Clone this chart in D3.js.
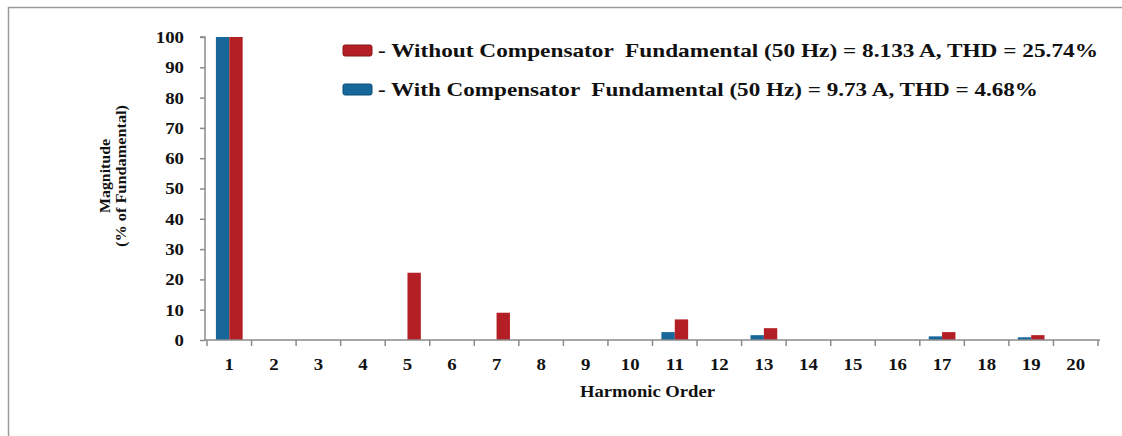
<!DOCTYPE html>
<html><head><meta charset="utf-8">
<script src="https://cdn.jsdelivr.net/npm/d3@7"></script>
<style>body{margin:0;background:#fff}svg{display:block}text{font-family:"Liberation Serif","Times New Roman",serif;font-weight:bold;fill:#111}</style>
</head><body><svg id="c" width="1122" height="436"></svg>
<script>
const harmonics = [1,2,3,4,5,6,7,8,9,10,11,12,13,14,15,16,17,18,19,20];
const withComp    = [100,0,0,0,0,0,0,0,0,0,2.6,0,1.6,0,0,0,1.2,0,0.9,0];
const withoutComp = [100,0,0,0,22.2,0,9.0,0,0,0,6.8,0,3.9,0,0,0,2.6,0,1.6,0];
const yTicks = [0,10,20,30,40,50,60,70,80,90,100];
const seriesNames = ["- Without Compensator  Fundamental (50 Hz) = 8.133 A, THD = 25.74%",
                     "- With Compensator  Fundamental (50 Hz) = 9.73 A, THD = 4.68%"];
const colors = {without:"#b31f24", withc:"#17679b"};

const svg = d3.select("#c");
svg.append("rect").attr("x",8.5).attr("y",7.5).attr("width",1200).attr("height",500)
  .attr("fill","none").attr("stroke","#9a9a9a").attr("stroke-width",1.5);

const x0 = 207, x1 = 1098, yTop = 37, yBot = 340, axX = 205;
const x = d3.scaleBand().domain(harmonics).range([x0,x1]).paddingInner(0).paddingOuter(0);
const y = d3.scaleLinear().domain([0,100]).range([yBot,yTop]);
const barW = x.bandwidth()*0.3;

const g = svg.append("g");
harmonics.forEach((h,i)=>{
  const c = x(h)+x.bandwidth()/2;
  if (withComp[i]>0) g.append("rect").attr("x",c-barW).attr("y",y(withComp[i])).attr("width",barW).attr("height",yBot-y(withComp[i])).attr("fill",colors.withc);
  if (withoutComp[i]>0) g.append("rect").attr("x",c).attr("y",y(withoutComp[i])).attr("width",barW).attr("height",yBot-y(withoutComp[i])).attr("fill",colors.without);
});

const tickFont = sel => sel.attr("font-size",16).attr("fill","#111")
  .style("font-family",'"Liberation Serif",serif').style("font-weight","bold")
  .attr("textLength",d=>String(d).length*9.4).attr("lengthAdjust","spacingAndGlyphs");

const ya = svg.append("g").attr("transform",`translate(${axX},0)`)
  .call(d3.axisLeft(y).tickValues(yTicks).tickSize(5).tickPadding(16));
ya.select(".domain").attr("stroke","#8a8a8a").attr("stroke-width",1.5).attr("d",`M-5,${yTop}H0V${yBot}`);
ya.selectAll(".tick line").attr("stroke","#8a8a8a").attr("stroke-width",1.5);
ya.selectAll(".tick text").call(tickFont).attr("dy","0.34em");

const xa = svg.append("g").attr("transform",`translate(0,${yBot})`)
  .call(d3.axisBottom(x).tickSize(0).tickPadding(0));
xa.select(".domain").attr("stroke","#8a8a8a").attr("stroke-width",1.5).attr("d",`M${axX},0H${x1+2}`);
xa.selectAll(".tick text").call(tickFont).attr("dy",null).attr("y",30);
xa.selectAll(".bt").data(d3.range(harmonics.length+1)).enter().append("line")
  .attr("x1",d=>x0+d*x.step()).attr("x2",d=>x0+d*x.step()).attr("y1",0).attr("y2",6)
  .attr("stroke","#8a8a8a").attr("stroke-width",1.5);

svg.append("text").attr("x",580).attr("y",396.5).attr("font-size",16)
  .attr("textLength",135).attr("lengthAdjust","spacingAndGlyphs").text("Harmonic Order");
svg.append("text").attr("transform","translate(110,176) rotate(-90)").attr("text-anchor","middle").attr("font-size",15.5)
  .attr("textLength",74).attr("lengthAdjust","spacingAndGlyphs").text("Magnitude");
svg.append("text").attr("transform","translate(126,176) rotate(-90)").attr("text-anchor","middle").attr("font-size",15.5)
  .attr("textLength",142).attr("lengthAdjust","spacingAndGlyphs").text("(% of Fundamental)");

const leg = [{c:colors.without,t:seriesNames[0],y:50.5,len:720},{c:colors.withc,t:seriesNames[1],y:89.5,len:660}];
leg.forEach(l=>{
  svg.append("rect").attr("x",343).attr("y",l.y-5.5).attr("width",29).attr("height",11).attr("rx",2)
    .attr("fill",l.c).attr("stroke",d3.color(l.c).darker(0.8)).attr("stroke-width",1);
  svg.append("text").attr("x",378).attr("y",l.y+6.5).attr("font-size",19).style("white-space","pre")
    .attr("textLength",l.len).attr("lengthAdjust","spacingAndGlyphs").text(l.t);
});
</script></body></html>
